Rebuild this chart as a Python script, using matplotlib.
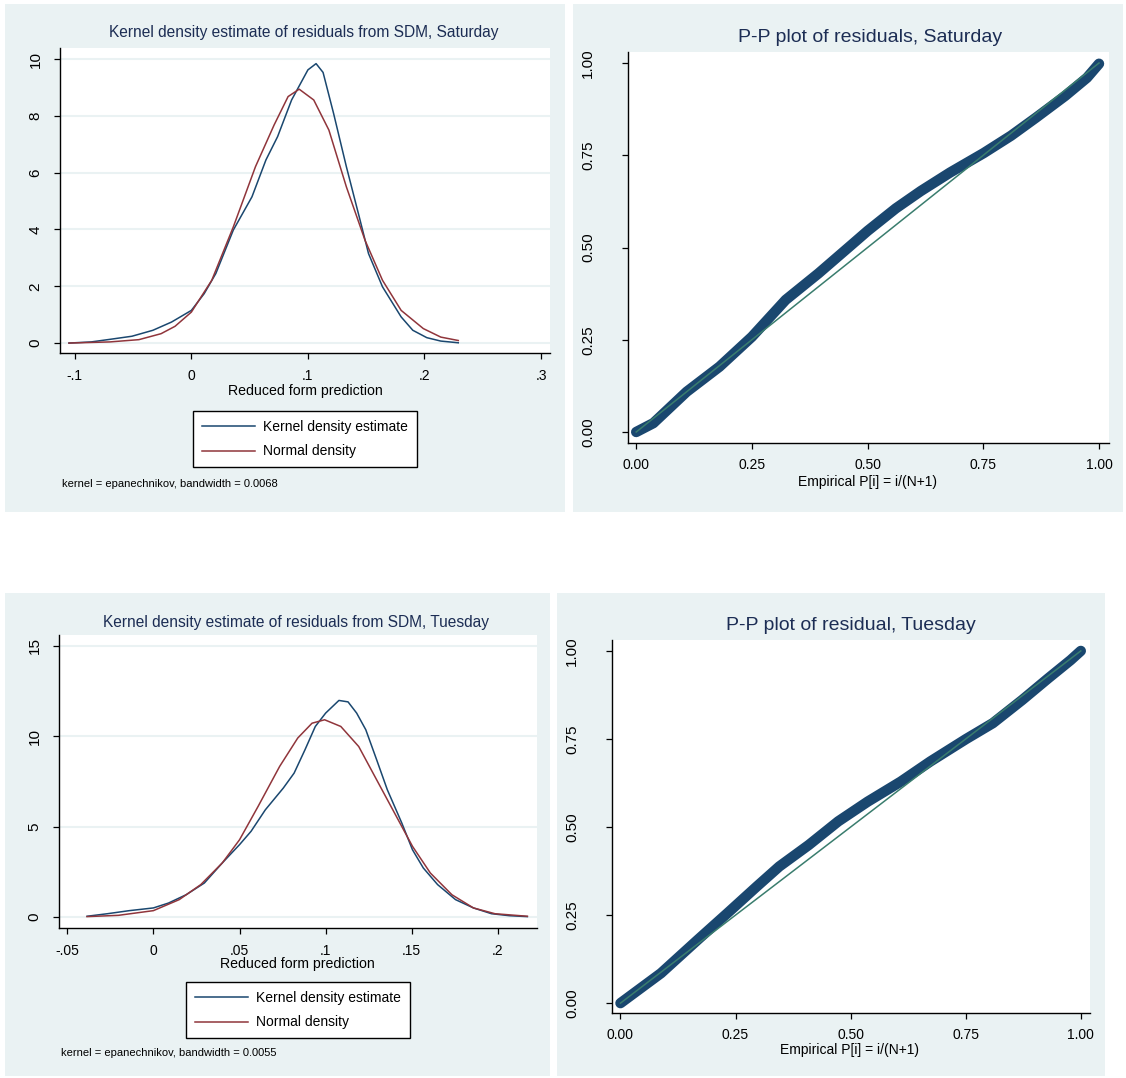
import numpy as np
import matplotlib
matplotlib.use("Agg")
import matplotlib.pyplot as plt
from matplotlib.patches import Rectangle

# ============================================================
# DATA
# ============================================================

# Saturday kernel density vs normal density
sat_kde_x = [-0.105, -0.086, -0.070, -0.051, -0.033, -0.017, 0.000, 0.011, 0.021,
             0.036, 0.052, 0.064, 0.074, 0.086, 0.100, 0.107, 0.113, 0.122, 0.133,
             0.144, 0.152, 0.164, 0.180, 0.190, 0.202, 0.214, 0.229]
sat_kde_y = [0.00, 0.04, 0.13, 0.24, 0.45, 0.74, 1.15, 1.74, 2.45,
             3.98, 5.15, 6.45, 7.27, 8.56, 9.62, 9.84, 9.53, 8.09, 6.21,
             4.45, 3.15, 1.98, 0.92, 0.45, 0.19, 0.07, 0.01]

sat_norm_x = [-0.105, -0.070, -0.045, -0.026, -0.014, 0.000, 0.0175, 0.036, 0.055,
              0.071, 0.083, 0.0925, 0.105, 0.118, 0.133, 0.149, 0.164, 0.180,
              0.199, 0.214, 0.229]
sat_norm_y = [0.00, 0.04, 0.12, 0.33, 0.59, 1.09, 2.21, 4.09, 6.21,
              7.68, 8.68, 8.94, 8.56, 7.50, 5.50, 3.62, 2.21, 1.15,
              0.51, 0.21, 0.09]

# Tuesday kernel density vs normal density
tue_kde_x = [-0.0385, -0.0267, -0.014, 0.000, 0.00875, 0.019, 0.0296, 0.040, 0.050,
             0.0567, 0.065, 0.0754, 0.0817, 0.088, 0.094, 0.100, 0.1077, 0.113,
             0.118, 0.1233, 0.1296, 0.1358, 0.1442, 0.1504, 0.1567, 0.165, 0.1754,
             0.1858, 0.1963, 0.2067, 0.2171]
tue_kde_y = [0.04, 0.18, 0.35, 0.50, 0.77, 1.23, 1.88, 2.99, 4.00,
             4.74, 5.93, 7.13, 7.96, 9.25, 10.54, 11.28, 11.98, 11.90,
             11.28, 10.36, 8.70, 7.04, 5.20, 3.72, 2.71, 1.79, 0.96,
             0.50, 0.18, 0.07, 0.02]

tue_norm_x = [-0.0385, -0.0204, 0.000, 0.015, 0.0275, 0.040, 0.050, 0.0608, 0.0733,
              0.0838, 0.0921, 0.0994, 0.1088, 0.1192, 0.1296, 0.140, 0.1504,
              0.1608, 0.1733, 0.1858, 0.1983, 0.2171]
tue_norm_y = [0.02, 0.09, 0.35, 0.96, 1.79, 2.99, 4.27, 6.12, 8.33,
              9.90, 10.72, 10.91, 10.54, 9.43, 7.59, 5.75, 3.91,
              2.43, 1.23, 0.50, 0.18, 0.04]

# P-P plots: empirical vs normal probability
sat_pp_x = [0.0, 0.037, 0.109, 0.180, 0.250, 0.323, 0.394, 0.466, 0.500, 0.561,
            0.615, 0.678, 0.751, 0.810, 0.864, 0.927, 0.974, 1.0]
sat_pp_y = [0.0, 0.024, 0.109, 0.177, 0.258, 0.358, 0.430, 0.508, 0.545, 0.606,
            0.653, 0.703, 0.756, 0.803, 0.852, 0.911, 0.960, 0.998]

tue_pp_x = [0.0, 0.088, 0.168, 0.232, 0.296, 0.345, 0.409, 0.473, 0.537, 0.609,
            0.673, 0.751, 0.809, 0.873, 0.929, 0.978, 1.0]
tue_pp_y = [0.0, 0.085, 0.180, 0.255, 0.331, 0.388, 0.449, 0.516, 0.572, 0.629,
            0.686, 0.750, 0.795, 0.861, 0.922, 0.974, 1.0]

ref_line = [0.0, 1.0]

sat_kde_ticks = [0, 2, 4, 6, 8, 10]
tue_kde_ticks = [0, 5, 10, 15]
sat_x_ticks = [-0.1, 0, 0.1, 0.2, 0.3]
sat_x_labels = ["-.1", "0", ".1", ".2", ".3"]
tue_x_ticks = [-0.05, 0, 0.05, 0.1, 0.15, 0.2]
tue_x_labels = ["-.05", "0", ".05", ".1", ".15", ".2"]
pp_ticks = [0, 0.25, 0.5, 0.75, 1.0]
pp_labels = ["0.00", "0.25", "0.50", "0.75", "1.00"]

# ============================================================
# STYLE
# ============================================================

plt.rcParams["font.family"] = ["Liberation Sans", "DejaVu Sans"]

BG     = "#eaf2f3"
NAVY   = "#1a476f"
MAROON = "#90353b"
TEAL   = "#3a7d6e"
TITLE  = "#1c2d54"

W, H = 1126, 1078
fig = plt.figure(figsize=(W / 100, H / 100), dpi=100)
fig.patch.set_facecolor("white")


def box(x0, y0, x1, y1):
    # pixel box (top-left origin) -> figure fraction
    return [x0 / W, 1 - y1 / H, (x1 - x0) / W, (y1 - y0) / H]


def panel(x0, y0, x1, y1):
    fig.patches.append(Rectangle((x0 / W, 1 - y1 / H), (x1 - x0) / W, (y1 - y0) / H,
                                 transform=fig.transFigure, facecolor=BG,
                                 edgecolor="none", zorder=-10))


def ftext(x, y, s, **kw):
    fig.text(x / W, 1 - y / H, s, **kw)


def style_axes(ax, xsize, ysize, xpad, ypad):
    for side in ["top", "right"]:
        ax.spines[side].set_visible(False)
    for side in ["left", "bottom"]:
        ax.spines[side].set_linewidth(1.0)
        ax.spines[side].set_color("black")
    ax.tick_params(axis="both", length=4.5, width=0.9)
    ax.tick_params(axis="x", pad=xpad, labelsize=xsize)
    ax.tick_params(axis="y", pad=ypad, labelsize=ysize)
    for lab in ax.get_yticklabels():
        lab.set_rotation(90)
        lab.set_va("center")


# ============================================================
# PANEL BACKGROUNDS
# ============================================================

panel(5, 4, 565, 512)
panel(573, 4, 1123, 512)
panel(5, 593, 550, 1076)
panel(557, 593, 1105, 1076)

# ============================================================
# KERNEL DENSITY PANELS
# ============================================================

kde_panels = [
    dict(rect=(60, 48, 550, 353), kx=sat_kde_x, ky=sat_kde_y, nx=sat_norm_x, ny=sat_norm_y,
         xlim=(-0.1127, 0.3077), ylim=(-0.35, 10.39), yt=sat_kde_ticks,
         xt=sat_x_ticks, xl=sat_x_labels, leg_gap=58,
         title="Kernel density estimate of residuals from SDM, Saturday",
         title_xy=(304, 32), xlab_xy=(305, 391), note_xy=(62, 484),
         note="kernel = epanechnikov, bandwidth = 0.0068"),
    dict(rect=(59, 635, 537, 928), kx=tue_kde_x, ky=tue_kde_y, nx=tue_norm_x, ny=tue_norm_y,
         xlim=(-0.0548, 0.2227), ylim=(-0.61, 15.6), yt=tue_kde_ticks,
         xt=tue_x_ticks, xl=tue_x_labels, leg_gap=54,
         title="Kernel density estimate of residuals from SDM, Tuesday",
         title_xy=(296, 623), xlab_xy=(297, 964), note_xy=(61, 1053),
         note="kernel = epanechnikov, bandwidth = 0.0055"),
]

for p in kde_panels:
    x0, y0, x1, y1 = p["rect"]
    ax = fig.add_axes(box(x0, y0, x1, y1))
    ax.set_facecolor("white")
    ax.set_xlim(*p["xlim"])
    ax.set_ylim(*p["ylim"])
    ax.set_yticks(p["yt"])
    ax.set_yticklabels([str(t) for t in p["yt"]])
    ax.set_xticks(p["xt"])
    ax.set_xticklabels(p["xl"])
    ax.yaxis.grid(True, color=BG, linewidth=1.5)
    ax.set_axisbelow(True)
    ax.plot(p["kx"], p["ky"], color=NAVY, linewidth=1.1, label="Kernel density estimate")
    ax.plot(p["nx"], p["ny"], color=MAROON, linewidth=1.1, label="Normal density")
    style_axes(ax, 10, 11, 7, 8)
    below = p["leg_gap"] / (y1 - y0)
    leg = ax.legend(loc="upper center", bbox_to_anchor=(0.5, -below), borderaxespad=0,
                    fontsize=10, frameon=True, fancybox=False, framealpha=1,
                    facecolor="white", handlelength=3.8, handletextpad=0.6,
                    labelspacing=0.75, borderpad=0.65)
    leg.get_frame().set_edgecolor("black")
    leg.get_frame().set_linewidth(1.0)
    ftext(*p["title_xy"], p["title"], ha="center", va="center", fontsize=11.2, color=TITLE)
    ftext(*p["xlab_xy"], "Reduced form prediction", ha="center", va="center", fontsize=10.2)
    ftext(*p["note_xy"], p["note"], ha="left", va="center", fontsize=8)

# ============================================================
# P-P PANELS
# ============================================================

pp_panels = [
    dict(rect=(628, 52, 1109, 443), px=sat_pp_x, py=sat_pp_y,
         xlim=(-0.0177, 1.0216), ylim=(-0.0298, 1.0298),
         title="P-P plot of residuals, Saturday", title_xy=(870, 37), xlab_xy=(868, 482)),
    dict(rect=(612, 640, 1090, 1013), px=tue_pp_x, py=tue_pp_y,
         xlim=(-0.0184, 1.020), ylim=(-0.028, 1.031),
         title="P-P plot of residual, Tuesday", title_xy=(851, 625), xlab_xy=(850, 1050)),
]

for p in pp_panels:
    x0, y0, x1, y1 = p["rect"]
    ax = fig.add_axes(box(x0, y0, x1, y1))
    ax.set_facecolor("white")
    ax.set_xlim(*p["xlim"])
    ax.set_ylim(*p["ylim"])
    ax.set_xticks(pp_ticks)
    ax.set_xticklabels(pp_labels)
    ax.set_yticks(pp_ticks)
    ax.set_yticklabels(pp_labels)
    ax.plot(p["px"], p["py"], color=NAVY, linewidth=7.5, solid_capstyle="round",
            solid_joinstyle="round", zorder=2)
    ax.plot(ref_line, ref_line, color=TEAL, linewidth=1.1, zorder=3)
    style_axes(ax, 10, 11, 6, 19)
    ftext(*p["title_xy"], p["title"], ha="center", va="center", fontsize=14, color=TITLE)
    ftext(*p["xlab_xy"], "Empirical P[i] = i/(N+1)", ha="center", va="center", fontsize=10)

fig.savefig("out.png", dpi=100)
